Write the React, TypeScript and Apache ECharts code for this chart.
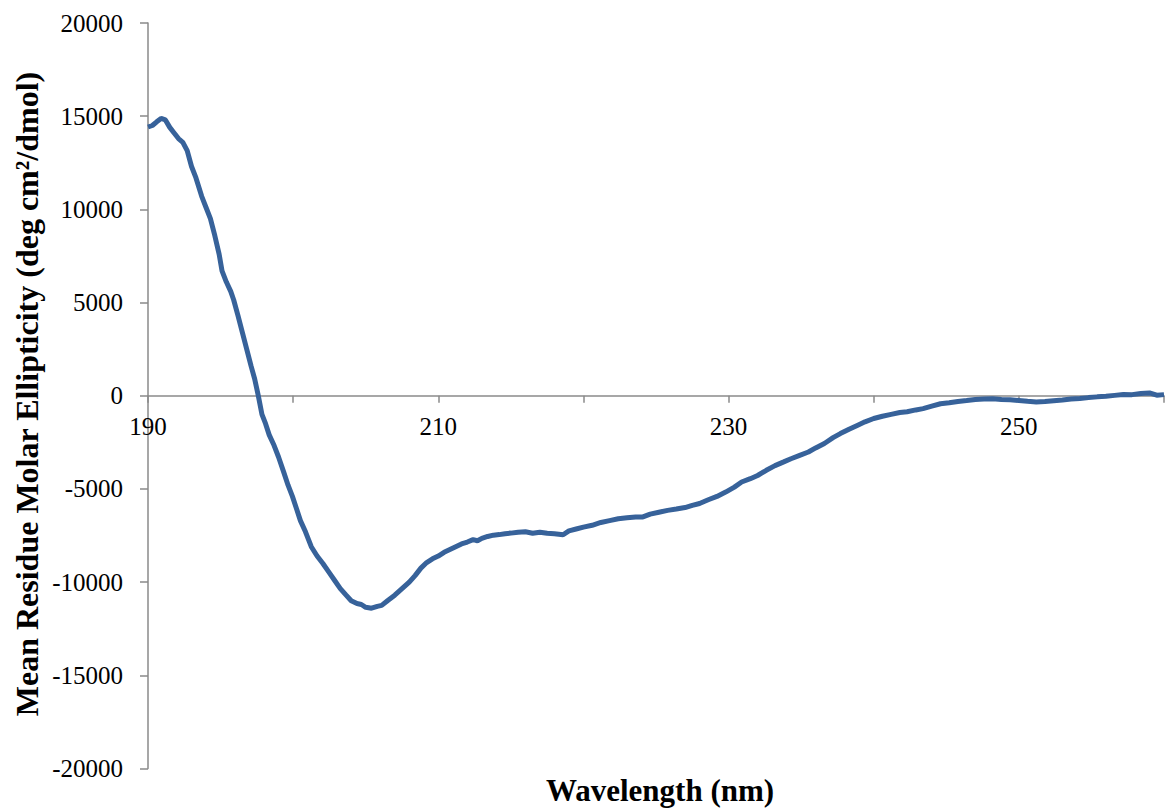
import React, { useEffect, useRef } from "react";
import * as echarts from "echarts";

const wavelengths: number[] = [
  190.0, 190.3, 190.6, 190.9, 191.2, 191.5, 191.8, 192.1, 192.4, 192.7,
  193.0, 193.3, 193.7, 194.0, 194.3, 194.6, 194.9, 195.1, 195.4, 195.7,
  195.9, 196.2, 196.5, 196.8, 197.1, 197.35, 197.6, 197.85, 198.1, 198.35,
  198.65, 199.0, 199.35, 199.65, 199.95, 200.25, 200.5, 200.85, 201.25, 201.65,
  202.05, 202.45, 202.85, 203.25, 203.65, 204.0, 204.4, 204.7, 205.0, 205.4,
  205.8, 206.1, 206.5, 207.0, 207.5, 208.0, 208.4, 208.8, 209.2, 209.6,
  210.0, 210.4, 210.8, 211.2, 211.6, 212.0, 212.4, 212.7, 213.0, 213.4,
  213.8, 214.2, 214.6, 215.0, 215.5, 216.0, 216.5, 217.0, 217.5, 218.0,
  218.6, 219.0, 219.5, 220.0, 220.6, 221.2, 221.8, 222.4, 223.0, 223.6,
  224.1, 224.6, 225.2, 225.8, 226.4, 227.0, 227.5, 228.0, 228.6, 229.2,
  229.8, 230.4, 230.9, 231.5, 232.0, 232.6, 233.2, 233.8, 234.3, 234.9,
  235.5, 236.0, 236.6, 237.2, 237.7, 238.3, 238.9, 239.4, 240.0, 240.6,
  241.2, 241.8, 242.3, 242.9, 243.4, 244.0, 244.6, 245.2, 245.8, 246.4,
  247.0, 247.6, 248.2, 248.8, 249.4, 250.0, 250.6, 251.2, 251.8, 252.4,
  253.0, 253.6, 254.2, 254.8, 255.4, 256.0, 256.6, 257.2, 257.8, 258.4,
  259.0, 259.5, 260.0,
];

const ellipticity: number[] = [
  14420, 14500, 14700, 14880, 14800, 14400, 14100, 13800, 13600, 13150,
  12300, 11700, 10700, 10100, 9500, 8600, 7600, 6700, 6100, 5600,
  5150, 4300, 3400, 2500, 1600, 900, 0, -1000, -1500, -2100,
  -2600, -3300, -4100, -4800, -5400, -6100, -6700, -7300, -8100, -8600,
  -9000, -9450, -9900, -10350, -10700, -11000, -11150, -11200, -11350, -11400,
  -11300, -11250, -11000, -10700, -10350, -10000, -9650, -9250, -8950, -8750,
  -8600, -8400, -8250, -8100, -7950, -7850, -7720, -7780, -7650, -7550,
  -7480, -7450, -7400, -7370, -7320, -7300, -7380, -7320, -7380, -7400,
  -7460, -7250, -7150, -7050, -6950, -6800, -6700, -6600, -6550, -6500,
  -6500, -6350, -6250, -6150, -6080, -6000, -5880, -5780, -5580, -5400,
  -5170, -4900, -4630, -4450, -4280, -4000, -3750, -3550, -3380, -3200,
  -3020, -2800, -2560, -2250, -2030, -1800, -1580, -1400, -1220, -1100,
  -1000, -900, -860, -760, -690, -560, -430, -380, -310, -260,
  -200, -180, -160, -200, -220, -260, -300, -330, -310, -270,
  -230, -180, -150, -100, -60, -30, 20, 70, 60, 120,
  150, 30, 60,
];

const xLabelValues: number[] = [190, 210, 230, 250];
const xTitle = "Wavelength (nm)";
const yTitle = "Mean Residue Molar Ellipticity (deg cm²/dmol)";

export default function App() {
  const ref = useRef<HTMLDivElement>(null);
  useEffect(() => {
    if (!ref.current) return;
    const chart = echarts.init(ref.current, null, { renderer: "svg" });
    const font = "Liberation Serif";
    const axisColor = "#8a8a8a";
    const gridTop = 23;
    const gridHeight = 745.5;
    chart.setOption({
      animation: false,
      backgroundColor: "#ffffff",
      grid: { left: 148, top: gridTop, width: 1023, height: gridHeight, containLabel: false },
      xAxis: {
        type: "value",
        min: 190,
        max: 260,
        interval: 10,
        position: "bottom",
        offset: -gridHeight / 2,
        axisLine: { onZero: false, lineStyle: { color: axisColor, width: 1.5 } },
        axisTick: { show: true, length: 7, lineStyle: { color: axisColor, width: 1.5 } },
        splitLine: { show: false },
        axisLabel: {
          margin: 18,
          color: "#000",
          fontSize: 25,
          fontFamily: font,
          formatter: (v: number) => (xLabelValues.includes(v) ? String(v) : ""),
        },
      },
      yAxis: {
        type: "value",
        min: -20000,
        max: 20000,
        interval: 5000,
        axisLine: { show: true, onZero: false, lineStyle: { color: axisColor, width: 1.5 } },
        axisTick: { show: true, length: 8, lineStyle: { color: axisColor, width: 1.5 } },
        splitLine: { show: false },
        axisLabel: {
          margin: 25,
          color: "#000",
          fontSize: 25,
          fontFamily: font,
          formatter: (v: number) => String(v),
        },
      },
      series: [
        {
          type: "line",
          data: wavelengths.map((w, i) => [w, ellipticity[i]]),
          showSymbol: false,
          smooth: false,
          lineStyle: { color: "#37629a", width: 5 },
        },
      ],
      graphic: [
        {
          type: "text",
          x: 660,
          y: 790,
          style: {
            text: xTitle,
            fontSize: 31,
            fontWeight: "bold",
            fontFamily: font,
            fill: "#000",
            textAlign: "center",
            textVerticalAlign: "middle",
          },
        },
        {
          type: "text",
          x: 27,
          y: 394,
          rotation: Math.PI / 2,
          style: {
            text: yTitle,
            fontSize: 32,
            fontWeight: "bold",
            fontFamily: font,
            fill: "#000",
            textAlign: "center",
            textVerticalAlign: "middle",
          },
        },
      ],
    });
    return () => chart.dispose();
  }, []);
  return (
    <div
      ref={ref}
      style={{ position: "fixed", left: 0, top: 0, width: 1167, height: 808 }}
    />
  );
}
